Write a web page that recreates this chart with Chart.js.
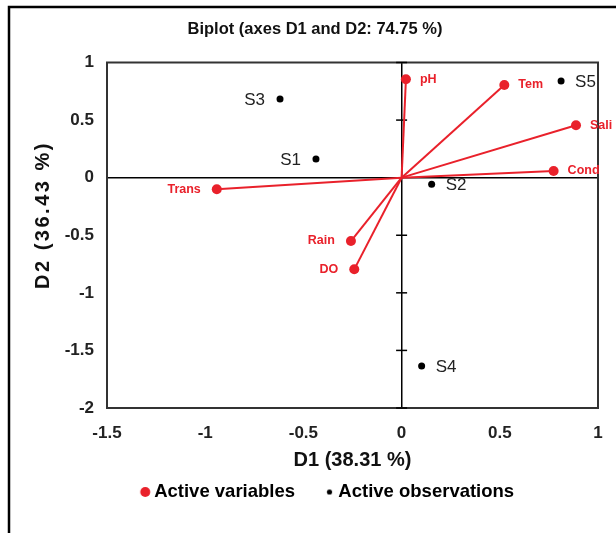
<!DOCTYPE html>
<html><head><meta charset="utf-8">
<script src="https://cdn.jsdelivr.net/npm/chart.js@4"></script>
<style>html,body{margin:0;padding:0;background:#fff;overflow:hidden}
#wrap{position:relative;width:616px;height:533px}</style>
</head><body><div id="wrap"><canvas id="c" width="616" height="533"></canvas></div>
<script>
const chartTitle = 'Biplot (axes D1 and D2: 74.75 %)';
const xTitle = 'D1 (38.31 %)';
const yTitle = 'D2 (36.43 %)';
const legendLabels = ['Active variables', 'Active observations'];
const variableNames = ['pH', 'Tem', 'Sali', 'Cond', 'Trans', 'Rain', 'DO'];
const variableD1 = [0.022, 0.523, 0.888, 0.774, -0.941, -0.258, -0.241];
const variableD2 = [0.854, 0.805, 0.455, 0.058, -0.101, -0.550, -0.796];
const observationNames = ['S1', 'S2', 'S3', 'S4', 'S5'];
const observationD1 = [-0.436, 0.153, -0.619, 0.102, 0.812];
const observationD2 = [0.162, -0.058, 0.683, -1.635, 0.839];
const xTicks = [-1.5, -1, -0.5, 0, 0.5, 1];
const xTickLabels = ['-1.5', '-1', '-0.5', '0', '0.5', '1'];
const yTicks = [-2, -1.5, -1, -0.5, 0, 0.5, 1];
const yTickLabels = ['-2', '-1.5', '-1', '-0.5', '0', '0.5', '1'];

const RED = '#E9212B';
const FONT = "'Liberation Sans', Arial, sans-serif";
Chart.defaults.font.family = FONT;

function dotImage(r, color, offset) {
  const c = document.createElement('canvas');
  c.width = 2 * (offset + r + 2); c.height = 2 * (r + 2);
  const g = c.getContext('2d');
  g.fillStyle = color; g.beginPath();
  g.arc(c.width / 2 + offset, c.height / 2, r, 0, Math.PI * 2); g.fill();
  return c;
}
const redDot = dotImage(5, RED, 14.9);
const blackDot = dotImage(2.6, '#000', 14.9);

const datasets = [];
variableNames.forEach((n, i) => {
  datasets.push({
    label: 'vec ' + n,
    data: [{x: 0, y: 0}, {x: variableD1[i], y: variableD2[i]}],
    showLine: true, borderColor: RED, borderWidth: 2, pointRadius: 0, pointHoverRadius: 0
  });
});
const varIdx = datasets.length;
datasets.push({
  label: legendLabels[0],
  data: variableD1.map((v, i) => ({x: v, y: variableD2[i]})),
  backgroundColor: RED, borderColor: RED, pointRadius: 5, borderWidth: 0
});
const obsIdx = datasets.length;
datasets.push({
  label: legendLabels[1],
  data: observationD1.map((v, i) => ({x: v, y: observationD2[i]})),
  backgroundColor: '#000', borderColor: '#000', pointRadius: 3.5, borderWidth: 0
});

const decor = {
  id: 'decor',
  beforeDraw(chart) {
    const ctx = chart.ctx;
    ctx.save();
    ctx.fillStyle = '#fff'; ctx.fillRect(0, 0, chart.width, chart.height);
    ctx.strokeStyle = '#000'; ctx.lineWidth = 2.5;
    ctx.strokeRect(9, 7, 1000, 1000);
    ctx.restore();
  },
  beforeDatasetsDraw(chart) {
    const ctx = chart.ctx, a = chart.chartArea;
    const xs = chart.scales.x, ys = chart.scales.y;
    ctx.save();
    ctx.strokeStyle = '#333'; ctx.lineWidth = 2;
    ctx.strokeRect(a.left, a.top, a.right - a.left, a.bottom - a.top);
    const x0 = xs.getPixelForValue(0);
    ctx.strokeStyle = '#000'; ctx.lineWidth = 1.5;
    yTicks.forEach(v => {
      if (v === 0) return;
      const py = ys.getPixelForValue(v);
      ctx.beginPath(); ctx.moveTo(x0 - 5.5, py); ctx.lineTo(x0 + 5.5, py); ctx.stroke();
    });
    ctx.restore();
  },
  afterDatasetsDraw(chart) {
    const ctx = chart.ctx;
    ctx.save();
    ctx.textBaseline = 'middle';
    ctx.font = 'bold 12.5px ' + FONT; ctx.fillStyle = RED;
    chart.getDatasetMeta(varIdx).data.forEach((p, i) => {
      const left = variableD1[i] < 0;
      ctx.textAlign = left ? 'right' : 'left';
      ctx.fillText(variableNames[i], p.x + (left ? -16 : 14), p.y);
    });
    ctx.font = '17px ' + FONT; ctx.fillStyle = '#222';
    chart.getDatasetMeta(obsIdx).data.forEach((p, i) => {
      const left = observationD1[i] < 0;
      ctx.textAlign = left ? 'right' : 'left';
      ctx.fillText(observationNames[i], p.x + (left ? -15 : 14), p.y + 1);
    });
    ctx.restore();
  },
  afterDraw(chart) {
    const ctx = chart.ctx;
    ctx.save();
    ctx.translate(43, 215); ctx.rotate(-Math.PI / 2);
    ctx.font = 'bold 20px ' + FONT; ctx.fillStyle = '#111';
    if ('letterSpacing' in ctx) ctx.letterSpacing = '2.5px';
    ctx.textAlign = 'center'; ctx.textBaseline = 'middle';
    ctx.fillText(yTitle, 0, 0);
    ctx.restore();
  }
};

new Chart(document.getElementById('c'), {
  type: 'scatter',
  data: {datasets},
  plugins: [decor],
  options: {
    responsive: false, animation: false,
    layout: {padding: {left: 32, right: 18, top: 0, bottom: 21.75}},
    plugins: {
      tooltip: {enabled: false},
      title: {display: true, text: chartTitle, color: '#111',
        font: {size: 16.5, weight: 'bold'}, padding: {top: 20, bottom: 22.7}},
      legend: {
        position: 'bottom',
        onClick: null,
        labels: {
          usePointStyle: true, pointStyleWidth: 29.05, padding: 5,
          color: '#111', font: {size: 18.5, weight: 'bold'},
          generateLabels: () => [
            {text: legendLabels[0], pointStyle: redDot, fillStyle: RED, strokeStyle: RED, lineWidth: 0, hidden: false, datasetIndex: varIdx},
            {text: legendLabels[1], pointStyle: blackDot, fillStyle: '#000', strokeStyle: '#000', lineWidth: 0, hidden: false, datasetIndex: obsIdx}
          ]
        }
      }
    },
    scales: {
      x: {
        type: 'linear', min: -1.5, max: 1,
        afterBuildTicks: s => { s.ticks = xTicks.map(v => ({value: v})); },
        afterFit: s => { s.height = 69.75; s.paddingRight = 0; s.paddingLeft = 0; },
        ticks: {color: '#222', font: {size: 17, weight: 'bold'}, padding: 15.5, maxRotation: 0, autoSkip: false,
          callback: (v, i) => xTickLabels[i]},
        grid: {drawTicks: false, lineWidth: 1.5,
          color: c => (c.tick && c.tick.value === 0) ? '#000' : 'rgba(0,0,0,0)'},
        border: {display: false},
        title: {display: true, text: xTitle, color: '#111',
          font: {size: 20, weight: 'bold'}, padding: {top: 4.8, bottom: 5.75}}
      },
      y: {
        type: 'linear', min: -2, max: 1,
        afterBuildTicks: s => { s.ticks = yTicks.map(v => ({value: v})); },
        afterFit: s => { s.width = 75; },
        ticks: {color: '#222', font: {size: 17, weight: 'bold'}, padding: 13, autoSkip: false,
          callback: (v, i) => yTickLabels[i]},
        grid: {drawTicks: false, lineWidth: 1.5,
          color: c => (c.tick && c.tick.value === 0) ? '#000' : 'rgba(0,0,0,0)'},
        border: {display: false},
        title: {display: false}
      }
    }
  }
});
</script></body></html>
